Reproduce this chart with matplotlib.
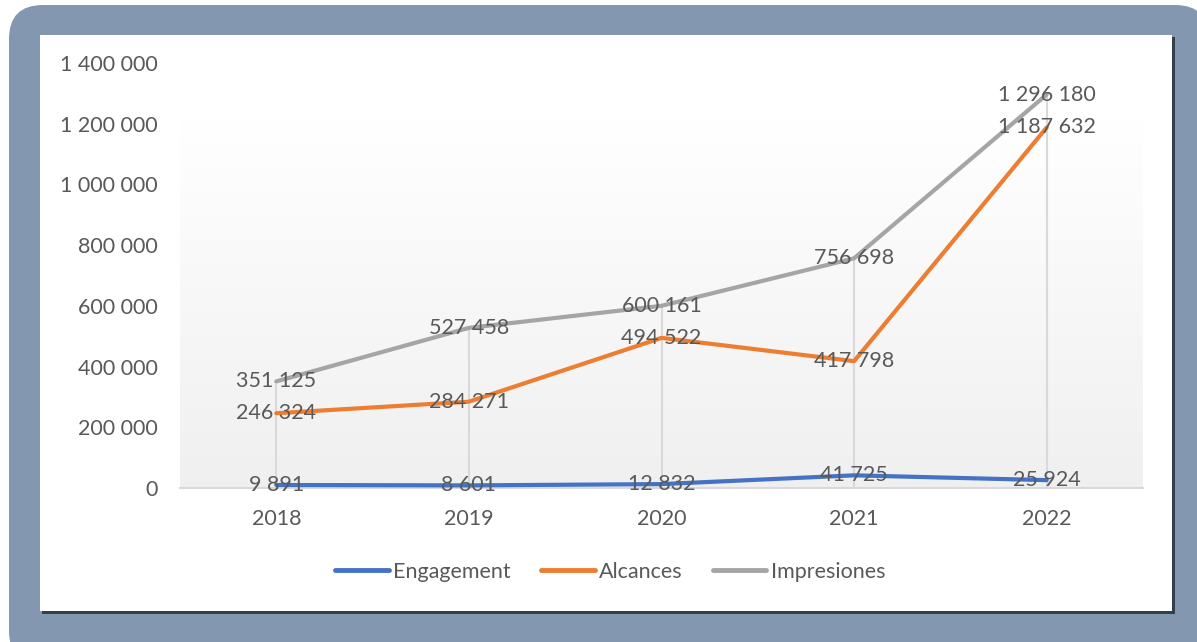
import matplotlib
matplotlib.use("Agg")
import matplotlib.pyplot as plt
import numpy as np
from matplotlib.patches import FancyBboxPatch, Rectangle
from matplotlib.lines import Line2D
import matplotlib.ticker as mtick

# data
years = ["2018", "2019", "2020", "2021", "2022"]
engagement = [9891, 8601, 12832, 41725, 25924]
alcances = [246324, 284271, 494522, 417798, 1187632]
impresiones = [351125, 527458, 600161, 756698, 1296180]

series_names = ["Engagement", "Alcances", "Impresiones"]
series_colors = ["#4472C4", "#ED7D31", "#A5A5A5"]

TXT = "#595959"
FS = 15.5
plt.rcParams["font.family"] = ["Lato", "DejaVu Sans"]


def fmt_num(v):
    return f"{int(v):,}".replace(",", " ")


W, H = 1197, 642
fig = plt.figure(figsize=(W / 100, H / 100), dpi=100)

# background layer in pixel coords (frame + white panel)
bg = fig.add_axes([0, 0, 1, 1])
bg.set_xlim(0, W)
bg.set_ylim(H, 0)
bg.axis("off")
bg.add_patch(FancyBboxPatch((9, 5), 1200, 660, boxstyle="round,pad=0,rounding_size=34",
                            fc="#8497B0", ec="none"))
# panel shadow
bg.add_patch(Rectangle((42, 37), 1133, 577, fc="#323F4F", ec="none"))
bg.add_patch(Rectangle((40, 35), 1132, 576, fc="white", ec="none"))

# plot area: x 180..1143 px, y 63..488 px
ax = fig.add_axes([180 / W, (H - 488) / H, 963 / W, 425 / H])
ax.set_facecolor("none")
x = np.arange(len(years)) + 0.5
ax.set_xlim(0, len(years))
ax.set_ylim(0, 1400000)

# gradient fill of the plot area
grad = np.linspace(0.94, 1.0, 256).reshape(-1, 1)
ax.imshow(np.dstack([grad, grad, grad]), extent=[0, len(years), 0, 1218800],
          origin="lower", aspect="auto", zorder=0)

# drop lines
tops = np.max([engagement, alcances, impresiones], axis=0)
ax.vlines(x, 0, tops, color="#D9D9D9", lw=1.5, zorder=1)

for vals, name, col in zip([engagement, alcances, impresiones], series_names, series_colors):
    ax.plot(x, vals, color=col, lw=3, solid_capstyle="round", label=name, zorder=3)
    for xi, v in zip(x, vals):
        ax.text(xi, v, fmt_num(v), ha="center", va="center", fontsize=FS, color=TXT, zorder=4)

ax.set_xticks(x)
ax.set_xticklabels(years)
ax.set_yticks(np.arange(0, 1400001, 200000))
ax.yaxis.set_major_formatter(mtick.FuncFormatter(lambda v, p: fmt_num(v)))
ax.tick_params(axis="both", length=0, labelsize=FS, labelcolor=TXT)
ax.tick_params(axis="y", pad=16)
ax.tick_params(axis="x", pad=15)
for s in ["top", "right", "left"]:
    ax.spines[s].set_visible(False)
ax.spines["bottom"].set_color("#D9D9D9")
ax.spines["bottom"].set_linewidth(1.5)

handles = [Line2D([], [], color=c, lw=3.5, solid_capstyle="round") for c in series_colors]
fig.legend(handles, series_names, loc="center", bbox_to_anchor=(610 / W, (H - 572) / H),
           ncol=3, frameon=False, fontsize=FS, labelcolor=TXT, handlelength=2.5,
           handletextpad=0.2, columnspacing=1.4)

fig.savefig("out.png", dpi=100)
